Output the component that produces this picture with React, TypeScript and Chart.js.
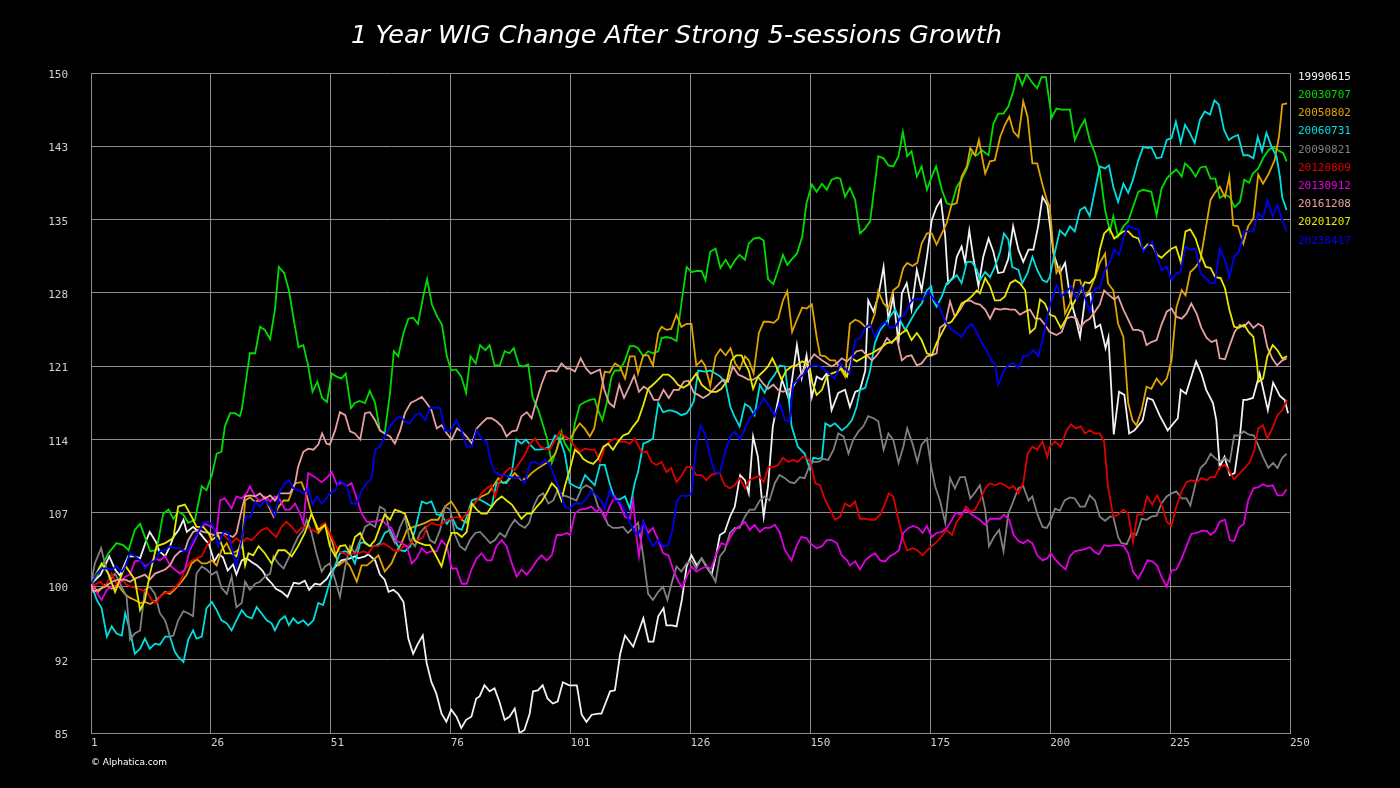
import React, { useEffect, useRef } from "react";
import { Chart, registerables } from "chart.js";

Chart.register(...registerables);

const TITLE = "1 Year WIG Change After Strong 5-sessions Growth";
const COPYRIGHT = "© Alphatica.com";
const SERIES_LABELS = ["19990615", "20030707", "20050802", "20060731", "20090821", "20120809", "20130912", "20161208", "20201207", "20230417"];
const SERIES_COLORS = ["#f2f2f2", "#00dd00", "#e0a400", "#00dede", "#808080", "#e00000", "#e000e0", "#e8a0a0", "#e8e800", "#0000ee"];
const X_TICK_LABELS = ["1", "26", "51", "76", "101", "126", "150", "175", "200", "225", "250"];
const Y_TICK_LABELS = ["85", "92", "100", "107", "114", "121", "128", "135", "143", "150"];
const X_MIN = 1;
const X_MAX = 250;
const Y_MIN = 85;
const Y_MAX = 150;

// [session, index value]
const S19990615: [number, number][] = [[1,99.7],[3,100.6],[4.8,102.4],[6,101.1],[7,100.5],[8.7,102.4],[10.1,102.4],[11.2,102.2],[12.5,104.0],[13.2,104.8],[14.5,103.8],[15.2,102.9],[16.4,102.4],[17.5,103.5],[18.1,104.3],[19.2,105.0],[20.2,106.0],[20.9,104.8],[22.2,105.3],[23.4,104.8],[24.6,104.1],[25.5,103.6],[26.6,101.9],[27.5,102.6],[28.4,102.3],[29.4,101.0],[30.5,101.6],[31.2,100.6],[32.3,102.0],[33.3,102.2],[34.5,101.8],[35.5,101.5],[36.6,101.0],[37.6,100.2],[38.6,99.7],[39.4,99.2],[40.6,98.9],[41.8,98.4],[43.1,99.8],[44.2,99.7],[45.4,100.0],[46.3,99.1],[47.5,99.7],[48.6,99.6],[50,100.2],[51,101.0],[53,102.0],[54.8,102.2],[55.8,102.4],[56.5,102.2],[57.9,102.4],[58.6,102.6],[60,102.0],[61,100.6],[62,100.1],[62.8,98.9],[63.8,99.1],[64.8,98.7],[65.9,97.9],[66.9,94.3],[67.9,92.8],[68.9,93.8],[69.9,94.6],[70.7,91.9],[71.7,90.0],[72.7,88.9],[73.8,86.9],[74.8,86.1],[75.8,87.3],[76.9,86.6],[77.9,85.5],[78.9,86.3],[80,86.6],[81,88.4],[81.7,88.6],[82.7,89.7],[83.8,89.1],[84.8,89.4],[85.8,88.1],[86.9,86.3],[87.9,86.6],[89,87.4],[90,85.0],[91,85.3],[92.1,86.9],[92.8,89.1],[93.8,89.2],[94.8,89.7],[95.8,88.4],[96.9,87.9],[97.9,88.1],[99,90.0],[100.3,89.7],[101.9,89.7],[102.9,86.8],[103.9,86.1],[105,86.8],[106.4,86.9],[107,86.9],[108.8,89.1],[109.8,89.2],[110.9,92.8],[111.9,94.6],[113.6,93.5],[115.7,96.3],[116.8,94.0],[117.8,94.0],[118.8,96.5],[119.9,97.3],[120.5,95.6],[121.6,95.6],[122.6,95.5],[123.7,98.1],[124.7,101.4],[125.7,102.5],[126.8,101.5],[127.8,102.2],[128.8,101.4],[129.9,100.6],[130.9,102.7],[131.6,104.5],[132.6,104.8],[133.7,106.3],[134.7,107.3],[135.8,110.4],[136.8,109.9],[137.6,108.6],[138.5,114.2],[139.5,112.2],[140.2,108.6],[140.7,106.3],[141.6,109.3],[142.6,115.2],[143.7,117.8],[144.5,119.8],[146,117.8],[147.6,123.2],[148.6,120.0],[149.6,122.2],[150.7,118.1],[151.7,120.1],[152.8,119.8],[153.8,120.4],[154.8,116.8],[156.2,118.5],[157.6,118.8],[158.6,117.1],[159.7,118.6],[160.7,118.8],[161.8,120.7],[162.4,127.6],[163.5,126.5],[164.5,128.0],[165.6,130.9],[166.6,125.7],[167.6,128.0],[168.7,123.4],[169.4,128.3],[170.4,129.3],[171.4,126.7],[172.5,130.6],[173.5,128.6],[174.6,131.9],[175.6,135.5],[176.6,136.8],[177.5,137.5],[178.4,133.9],[179,129.3],[180.1,129.9],[180.8,131.9],[181.8,132.9],[182.5,131.4],[183.4,134.5],[184.2,131.9],[185.3,129.0],[186.3,131.9],[187.4,133.7],[188.4,132.4],[189.4,130.3],[190.5,130.4],[191.5,131.7],[192.5,134.9],[193.6,132.6],[194.6,131.4],[195.7,132.6],[196.7,132.6],[197.7,134.9],[198.6,137.8],[199.6,137.0],[200.9,132.2],[202.2,130.3],[203.3,131.3],[204.3,128.0],[205.4,126.0],[206.4,124.0],[207.5,128.0],[208.5,128.3],[209.6,124.9],[210.6,125.2],[211.7,122.9],[212.3,124.0],[213.4,114.4],[214.5,118.6],[215.6,118.3],[216.6,114.5],[217.7,114.8],[219.4,115.8],[220.4,118.0],[221.5,117.8],[222.9,116.3],[224.6,114.8],[226.7,116.0],[227.3,118.8],[228.4,118.4],[230.5,121.6],[231.6,120.4],[232.6,118.8],[234,117.5],[234.7,115.8],[235.4,111.2],[236.4,112.2],[237.5,110.4],[238.5,110.6],[239.6,114.2],[240.3,117.8],[241,117.8],[242.3,118.0],[243.7,120.4],[245.4,116.8],[246.5,119.5],[247.9,118.2],[248.9,117.8],[249.6,116.5]];

const S20030707: [number, number][] = [[1,99.7],[2.2,100.5],[3.2,101.4],[4.6,102.7],[6.3,103.7],[7.7,103.5],[8.8,103.0],[10.1,105.0],[11.2,105.6],[12.2,104.3],[13.3,102.9],[14.6,103.0],[16,106.6],[17.1,107.0],[18.1,106.1],[19.1,106.8],[20.2,106.5],[21.2,105.7],[22.6,106.0],[24,109.3],[25,108.9],[26.1,110.4],[27.1,112.5],[28.1,112.7],[28.8,115.2],[29.9,116.5],[30.9,116.5],[31.9,116.2],[32.3,116.8],[33,119.1],[34,122.4],[35.1,122.4],[36.1,125.0],[37.1,124.7],[38.2,123.8],[39.2,126.7],[40,130.9],[41.1,130.3],[42.1,128.6],[43,126.0],[44.1,123.0],[45.1,123.2],[46,121.4],[47,118.6],[48,119.6],[49,118.0],[50,117.6],[51,120.4],[52,120.1],[53,119.9],[53.9,120.4],[55,117.0],[55.8,117.5],[56.8,117.7],[57.9,117.5],[58.9,118.7],[60,117.5],[61,114.8],[62,114.5],[63.1,118.5],[63.9,122.6],[64.8,122.1],[65.9,124.4],[66.9,125.8],[67.9,125.9],[68.9,125.3],[70,128.0],[70.8,129.7],[71.8,127.2],[72.9,126.0],[73.9,125.2],[74.9,122.1],[75.8,120.7],[76.8,120.8],[77.9,120.1],[78.9,118.5],[79.8,122.1],[80.9,121.4],[81.8,123.2],[82.9,122.7],[83.8,123.2],[84.8,121.2],[85.9,121.2],[86.9,122.6],[87.9,122.4],[88.8,122.9],[89.9,121.2],[90.8,121.1],[91.8,121.3],[92.7,118.1],[93.9,116.8],[95.6,114.2],[96.7,111.6],[97.7,112.9],[98.7,114.7],[99.4,113.5],[100.5,112.7],[101.5,115.5],[102.5,117.3],[103.6,117.6],[104.6,117.8],[105.6,117.9],[106.3,116.8],[107.2,115.8],[108.1,117.5],[109.1,120.1],[109.8,120.7],[110.8,120.7],[111.9,121.7],[112.9,123.1],[113.9,123.1],[114.6,122.9],[115.7,122.1],[116.7,122.6],[117.7,122.4],[118.8,122.6],[119.5,123.9],[120.5,124.0],[121.5,123.9],[122.6,123.6],[123.6,127.3],[124.7,130.9],[125.7,130.4],[126.7,130.5],[127.8,130.5],[128.6,129.6],[129.6,132.4],[130.7,132.7],[131.7,130.8],[132.8,131.6],[133.8,130.8],[134.8,131.6],[135.7,132.1],[136.8,131.6],[137.6,133.2],[138.6,133.7],[139.7,133.8],[140.7,133.5],[141.6,129.7],[142.7,129.2],[143.7,130.6],[144.7,132.1],[145.6,131.1],[146.6,131.7],[147.6,132.2],[148.7,133.9],[149.6,137.2],[150.7,139.0],[151.7,138.3],[152.8,139.1],[153.8,138.5],[154.8,139.5],[155.9,139.7],[156.6,139.6],[157.6,137.8],[158.6,138.7],[159.7,137.5],[160.7,134.2],[161.8,134.7],[162.8,135.4],[164.5,141.8],[165.6,141.6],[166.6,140.9],[167.6,140.8],[168.7,141.8],[169.6,144.2],[170.5,141.8],[171.4,142.3],[172.5,139.8],[173.5,140.8],[174.6,138.5],[175.6,139.8],[176.5,140.8],[177.7,138.5],[178.7,137.2],[179.7,137.0],[180.8,138.8],[181.8,139.5],[182.9,140.6],[183.9,142.1],[185,141.9],[186,142.4],[187.4,141.9],[188.4,145.0],[189.4,146.0],[190.5,146.0],[191.5,146.7],[192.6,148.3],[193.4,150.0],[194.4,148.8],[195.3,149.9],[196.4,149.1],[197.5,148.5],[198.4,149.6],[199.3,149.6],[200.5,145.6],[201.5,146.5],[202.6,146.4],[204.3,146.4],[205.3,143.4],[206.4,144.6],[207.4,145.4],[208.4,143.4],[209.5,142.1],[210.5,140.4],[211.6,136.5],[212.6,134.4],[213.3,135.9],[214.3,133.9],[215.4,134.9],[216.4,135.4],[217.4,136.8],[218.5,138.3],[219.5,138.5],[221.2,138.3],[222.3,136.0],[223.3,138.6],[224.4,139.6],[225.4,140.1],[226.4,140.5],[227.5,139.8],[228.2,141.1],[229.3,140.6],[230.4,139.8],[231.4,140.7],[232.5,140.8],[233.5,139.6],[234.5,139.6],[235.4,137.7],[236.5,138.0],[237.5,137.8],[238.5,136.8],[239.6,137.3],[240.5,139.5],[241.5,139.2],[242.3,140.1],[243.4,140.6],[244.4,141.6],[245.5,142.4],[246.5,142.7],[247.5,142.4],[248.6,142.1],[249.3,141.3]];

const S20050802: [number, number][] = [[1,99.7],[2.5,98.9],[3.9,99.6],[5.3,99.2],[6.7,99.5],[8,98.7],[9.1,98.3],[10.1,98.1],[11.2,97.8],[12.2,97.9],[13.3,97.7],[14.6,98.1],[16.4,98.9],[17.4,98.7],[18.5,99.2],[19.8,99.9],[20.9,100.6],[21.9,101.7],[23,102.1],[24,101.7],[25,101.7],[26.1,102.0],[27.1,101.5],[28.1,103.0],[29.2,103.7],[30.2,102.7],[31.2,102.9],[32.3,103.3],[33,107.9],[34,108.2],[35,107.8],[36.1,107.9],[37.1,108.1],[38.2,107.0],[38.9,106.3],[40,107.3],[41,107.9],[42,107.9],[43.4,109.6],[44.7,109.7],[45.8,108.4],[46.8,106.6],[48.2,104.7],[49.6,105.5],[51,104.0],[52.4,101.5],[53.8,102.0],[54.8,101.4],[56.2,99.9],[57.2,101.5],[58.3,101.5],[59.3,101.9],[60.7,102.5],[62,100.9],[63.4,101.7],[64.5,102.9],[65.5,103.7],[66.6,105.0],[68,105.3],[69.3,105.5],[70.4,105.7],[71.7,106.0],[73.1,106.0],[74.5,107.3],[75.8,107.8],[76.9,107.0],[78,106.0],[79,105.7],[80.1,107.3],[81.1,107.9],[82.1,108.3],[83.5,108.6],[84.5,109.3],[85.6,110.1],[86.6,109.6],[87.7,109.9],[89,110.6],[90.4,109.9],[91.5,110.1],[92.5,110.6],[93.9,111.1],[94.9,111.4],[96,111.7],[97.4,112.5],[98.4,113.9],[99.4,114.2],[100.5,113.9],[101.5,114.8],[102.5,115.5],[103.5,115.0],[104.6,114.2],[105.5,115.0],[106.3,117.1],[107.7,120.6],[108.7,120.5],[109.8,121.4],[110.8,121.1],[111.9,119.9],[112.9,122.1],[113.9,122.1],[114.6,120.4],[115.7,122.2],[116.7,122.2],[117.7,121.2],[118.8,124.4],[119.5,125.0],[120.5,124.7],[121.5,124.8],[122.6,126.2],[123.6,125.0],[124.7,125.3],[125.7,125.3],[126.7,121.2],[127.8,121.7],[128.5,121.2],[129.6,119.2],[130.7,122.1],[131.7,122.8],[132.8,122.2],[133.8,122.9],[134.8,121.4],[135.7,120.8],[136.8,122.1],[137.6,121.7],[138.6,120.4],[139.7,124.4],[140.7,125.5],[141.7,125.5],[142.8,125.4],[143.7,125.8],[144.7,127.6],[145.6,128.5],[146.6,124.5],[147.6,125.7],[148.7,126.9],[149.6,126.8],[150.7,127.2],[151.7,124.0],[152.4,122.2],[153.5,122.1],[154.5,121.7],[155.5,121.7],[156.6,120.9],[157.6,120.1],[158.6,125.3],[159.7,125.7],[160.7,125.5],[161.8,125.0],[162.8,125.0],[163.8,126.3],[164.5,128.5],[165.6,127.3],[166.6,126.8],[167.6,128.6],[168.7,129.0],[169.7,130.8],[170.5,131.3],[171.6,131.0],[172.6,131.3],[173.5,133.2],[174.6,134.2],[175.6,134.2],[176.6,133.1],[177.7,134.2],[178.7,135.2],[179.7,137.0],[180.8,137.2],[181.8,139.8],[182.9,140.8],[183.6,142.6],[184.6,141.9],[185.4,143.4],[186.7,140.1],[187.7,141.3],[188.7,141.4],[189.8,143.7],[190.8,144.9],[191.7,145.7],[192.6,144.2],[193.6,143.7],[194.6,147.2],[195.5,145.7],[196.5,141.1],[197.5,141.1],[198.6,139.0],[199.5,137.5],[200.1,136.8],[200.8,132.9],[201.5,130.3],[202.2,130.9],[203.3,126.3],[204.3,127.3],[205.3,129.6],[206.4,129.6],[207.4,128.0],[208.4,128.6],[209.5,129.9],[210.5,131.3],[211.6,132.2],[212.2,129.3],[213.3,128.6],[214.3,125.3],[215.4,124.0],[216.4,117.5],[217.3,115.8],[218.1,115.3],[219.2,116.8],[220.2,119.1],[221.2,118.9],[222.3,119.9],[223.3,119.3],[224.4,119.9],[225.4,121.7],[226.4,126.9],[227.5,128.6],[228.3,128.1],[229.3,130.4],[230.4,130.9],[231.4,131.6],[232.5,134.7],[233.5,137.5],[234.4,138.2],[235.4,138.8],[236.5,137.8],[237.4,139.8],[238.2,135.0],[239.2,134.9],[240.3,133.2],[241.3,134.9],[242.4,135.7],[243.4,140.0],[244.4,139.1],[245.5,140.0],[246.8,141.4],[247.7,143.7],[248.4,146.9],[249.4,147.0]];

const S20060731: [number, number][] = [[1,99.7],[2.2,98.1],[3.2,97.3],[4.3,94.5],[5.3,95.5],[6.3,94.8],[7.4,94.6],[8.1,96.8],[9.1,95.1],[10.1,92.8],[11.2,93.3],[12.2,94.3],[13.2,93.3],[14.3,93.8],[15.3,93.7],[16.4,94.5],[17.4,94.5],[18.4,93.0],[19.1,92.5],[20.2,92.0],[21.2,94.2],[22.2,95.1],[22.9,94.3],[24,94.5],[25,97.3],[26.1,97.9],[27.1,97.1],[28.1,96.1],[29.2,95.8],[30.2,95.1],[31.2,96.1],[32.3,97.1],[33.3,96.5],[34.4,96.3],[35.4,97.4],[36.4,96.8],[37.5,96.1],[38.5,95.8],[39.2,95.1],[40.2,96.1],[41.3,96.5],[42.1,95.6],[43,96.3],[44,95.8],[45.1,96.1],[46.1,95.6],[47.2,96.1],[48.2,97.8],[49.2,97.6],[50.6,99.9],[51.7,101.5],[52.7,102.7],[53.8,102.9],[54.8,102.7],[55.8,101.7],[56.9,103.7],[57.9,103.8],[58.9,103.4],[60,103.4],[61,103.7],[62,104.7],[63.1,105.0],[64.1,104.0],[65.2,103.0],[66.2,102.9],[67.3,103.4],[68.3,105.0],[69.7,107.8],[70.7,107.6],[71.7,107.8],[72.8,106.5],[73.8,106.5],[74.9,105.6],[75.9,106.3],[77,105.2],[78,105.0],[79,106.3],[80.1,107.9],[81.1,108.1],[82.1,107.9],[83.2,107.6],[84.2,107.3],[85.2,109.6],[86.3,109.7],[87.3,109.6],[88.4,110.7],[89.4,113.9],[90.4,113.5],[91.3,113.9],[92.2,113.4],[93.2,112.9],[94.2,112.9],[95.3,113.0],[96.3,113.2],[97.4,114.3],[98.4,113.9],[99.4,112.5],[100.4,109.6],[101.5,109.3],[102.5,109.1],[103.6,110.4],[104.6,109.9],[105.6,109.4],[106.7,111.4],[107.7,111.4],[108.7,109.6],[109.8,108.0],[110.8,108.0],[111.9,108.3],[112.9,107.1],[113.9,109.6],[114.6,110.7],[115.7,113.5],[116.7,113.7],[117.7,114.0],[118.8,117.5],[119.8,116.6],[121.2,116.8],[122.6,116.6],[123.6,116.3],[124.7,116.5],[125.7,117.2],[126.2,117.7],[127.1,120.7],[128.5,120.6],[129.6,120.7],[130.7,120.4],[131.7,120.1],[132.8,119.4],[133.8,117.1],[134.6,116.2],[135.7,115.2],[136.8,117.4],[137.8,117.1],[138.8,116.3],[139.9,119.3],[140.9,118.5],[141.9,119.6],[143,120.3],[144,121.2],[145.1,121.1],[146.1,117.1],[146.5,115.2],[147.8,113.2],[149.2,112.5],[150.3,111.0],[151,112.1],[152.1,112.0],[152.8,112.1],[153.5,115.5],[154.5,115.2],[155.5,115.5],[156.9,114.8],[158,115.2],[159,115.8],[160,117.1],[160.7,118.8],[161.8,119.0],[162.8,120.7],[163.8,123.4],[164.9,124.7],[165.9,125.3],[166.9,126.0],[168,126.7],[169.4,125.3],[170.1,124.7],[171.4,125.8],[172.5,126.7],[173.5,127.3],[174.6,128.6],[175.5,129.0],[175.9,127.6],[176.6,127.0],[177.7,128.0],[178.7,129.3],[179.7,129.6],[180.8,130.1],[181.8,129.3],[182.9,131.4],[183.9,131.4],[185,130.6],[185.6,129.6],[186.7,130.4],[187.7,129.9],[188.7,130.9],[189.8,132.4],[190.6,134.2],[191.5,133.6],[192.3,130.9],[193.6,130.6],[194.4,129.3],[195.5,130.3],[196.5,131.9],[197.5,130.6],[198.6,129.6],[199.5,129.4],[200.1,129.9],[201.2,132.4],[202.2,134.5],[203.3,134.0],[204.3,134.9],[205.3,134.4],[206.4,136.5],[207.4,136.8],[208.4,135.9],[209.5,138.5],[210.5,140.8],[211.6,140.6],[212.4,140.9],[213.3,138.8],[214.3,137.3],[215.4,139.1],[216.4,138.2],[217.4,139.5],[218.5,141.4],[219.5,142.7],[220.6,142.6],[221.2,142.7],[222.3,141.6],[223.3,141.7],[224.4,143.4],[225.4,143.6],[226.3,145.2],[227.3,143.1],[228.2,144.9],[229.2,144.1],[230.2,143.1],[231.3,145.4],[232.3,146.2],[233.4,145.9],[234.3,147.3],[235.2,146.9],[236.3,144.4],[237.3,143.4],[238.2,143.7],[239.2,143.9],[240.3,141.9],[241.3,141.9],[242.4,141.6],[243.3,143.7],[244.2,142.3],[245.1,144.1],[246.2,142.7],[247.2,141.8],[247.9,139.8],[248.4,137.7],[249.3,136.5]];

const S20090821: [number, number][] = [[1,99.7],[1.8,101.7],[3.1,103.2],[3.9,101.7],[5,100.1],[6,100.7],[7.4,99.4],[8.4,98.4],[9.1,94.2],[10.1,94.8],[11.2,95.1],[12.2,99.1],[13.2,99.4],[14.3,98.7],[15.3,96.8],[16.4,96.1],[17.4,94.5],[18.1,94.6],[19.1,96.1],[20.2,97.0],[21.2,96.8],[22.2,96.5],[22.9,100.7],[24,101.4],[25,101.1],[26.1,100.6],[27.1,100.9],[28.1,99.3],[29.2,98.7],[30.2,100.4],[31.2,97.4],[32.3,97.8],[33,99.9],[34,99.1],[35.1,99.7],[36.1,99.9],[37.1,100.4],[38.2,100.7],[38.9,102.4],[39.9,101.7],[41,101.2],[42,102.2],[43,103.3],[44,104.3],[45.1,105.0],[45.8,106.0],[46.8,104.7],[47.8,102.7],[48.9,100.9],[49.6,101.4],[50.6,101.7],[51.7,100.1],[52.7,98.4],[53.8,101.4],[54.8,103.4],[55.8,102.7],[56.9,104.0],[57.9,105.3],[58.9,105.6],[60,105.3],[61,107.3],[62,107.0],[63.1,104.7],[64.1,103.7],[65.2,105.3],[66.2,106.3],[67.2,104.0],[68.3,103.4],[69.3,104.7],[70.4,105.3],[71.4,104.0],[72.4,103.7],[73.5,105.0],[74.5,107.3],[75.6,107.0],[76.6,104.5],[77.6,103.4],[78.7,103.0],[79.7,104.0],[80.8,104.7],[81.8,104.8],[82.8,104.3],[83.9,103.7],[84.9,104.0],[85.9,104.7],[87,104.3],[88,105.3],[89,106.0],[90,105.5],[91.1,105.2],[92,105.7],[92.9,107.3],[93.9,108.3],[94.9,108.6],[96,107.6],[97,107.9],[98,109.0],[99,108.4],[99.8,108.3],[100.8,108.1],[101.8,107.9],[102.9,109.1],[103.9,109.4],[104.9,109.1],[105.6,108.4],[106.3,107.3],[107.4,106.6],[108.4,105.5],[109.4,105.2],[110.5,105.2],[111.5,105.3],[112.5,104.7],[113.6,105.2],[114.6,105.7],[115.7,102.4],[116.7,98.7],[117.7,98.1],[118.8,98.9],[119.8,99.4],[120.7,98.1],[121.5,99.6],[122.6,101.4],[123.6,100.9],[124.7,101.7],[125.7,102.0],[126.7,101.2],[127.8,102.2],[128.8,101.5],[129.8,100.7],[130.7,99.9],[131.6,102.4],[132.6,103.0],[133.7,104.7],[134.7,105.2],[135.7,105.2],[136.8,106.3],[137.8,107.0],[138.8,107.0],[139.9,107.9],[140.9,108.3],[141.9,107.9],[143,109.6],[144,110.4],[145.1,110.1],[146.1,109.7],[147.1,109.6],[148.2,110.2],[149.2,110.1],[150.5,111.7],[152.1,111.7],[153.1,112.0],[154.1,111.9],[155.2,112.9],[156.2,114.5],[157.3,114.2],[158.3,112.5],[159.3,113.9],[160.4,114.7],[161.4,115.2],[162.4,116.2],[163.5,116.0],[164.5,115.7],[165.6,112.9],[166.6,114.5],[167.6,113.9],[168.7,111.6],[169.7,113.2],[170.5,115.0],[171.6,113.5],[172.6,111.7],[173.5,113.4],[174.6,114.0],[175.5,111.2],[176.3,109.3],[177.3,107.9],[178.4,105.7],[179.4,110.1],[180.4,109.1],[181.5,110.2],[182.5,110.2],[183.6,108.1],[184.6,108.7],[185.6,109.4],[186.7,107.0],[187.5,103.4],[188.5,104.3],[189.6,105.0],[190.5,102.9],[191.5,106.6],[192.6,107.9],[193.6,109.1],[194.6,109.3],[195.7,107.9],[196.5,108.3],[197.5,106.6],[198.6,105.3],[199.5,105.2],[200.1,105.7],[201.2,107.1],[202.2,106.9],[203.2,107.9],[204.3,108.2],[205.3,108.1],[206.4,107.3],[207.4,107.3],[208.4,108.4],[209.5,107.9],[210.5,106.3],[211.6,105.9],[212.6,106.3],[213.3,106.3],[214.3,104.3],[215,103.7],[216.1,103.6],[217.1,104.7],[218.1,104.5],[219.2,106.1],[220.2,106.0],[221.2,106.3],[222.3,106.4],[223.3,107.6],[224.4,108.3],[225.4,108.6],[226.4,108.8],[227.5,108.1],[228.5,108.1],[229.3,107.4],[230.4,109.6],[231.4,111.1],[232.5,111.6],[233.5,112.5],[234.4,112.1],[235.4,111.7],[236.5,112.1],[237.5,111.7],[238.4,114.3],[239.4,114.3],[240.4,114.7],[241.4,114.4],[242.5,114.3],[243.5,113.2],[244.4,112.2],[245.5,111.1],[246.5,111.6],[247.4,111.1],[248.4,112.1],[249.3,112.5]];

const S20120809: [number, number][] = [[1,99.7],[1.8,99.6],[2.9,99.9],[3.9,99.4],[5.3,100.7],[6.3,99.7],[7.4,100.1],[8.4,99.6],[9.4,99.4],[10.5,99.3],[11.5,99.1],[12.6,98.9],[13.6,98.1],[14.6,97.8],[15.3,98.4],[16.4,98.8],[17.4,98.9],[18.4,99.3],[19.5,99.9],[20.5,101.1],[21.9,102.0],[22.9,102.2],[24,102.4],[25,103.4],[26.1,104.3],[27.1,104.8],[28.1,104.7],[29.2,104.2],[30.2,103.7],[31.2,104.2],[32.3,103.7],[33.3,104.2],[34.4,104.0],[35.4,104.5],[36.4,105.0],[37.5,105.2],[38.5,104.7],[39.5,104.3],[40.6,105.3],[41.6,105.8],[42.7,105.3],[43.7,104.7],[44.7,105.2],[45.8,105.3],[46.8,105.0],[47.8,104.8],[48.9,105.5],[49.6,105.7],[51.3,104.0],[52.4,102.9],[53.4,102.7],[54.4,102.5],[55.5,102.7],[56.5,102.7],[57.6,102.9],[58.6,102.7],[59.6,103.4],[60.7,103.4],[61.7,103.7],[62.8,103.4],[63.8,103.0],[64.8,102.9],[65.9,103.4],[66.9,103.4],[67.9,104.0],[69,104.0],[70,104.3],[70.7,105.3],[71.8,105.7],[72.8,105.5],[73.8,105.5],[74.9,106.0],[75.9,106.1],[76.9,106.3],[78,106.1],[79,106.6],[80.1,107.3],[81.1,107.9],[82.1,108.6],[83.2,109.1],[84.2,109.4],[84.9,108.3],[85.9,109.9],[87,110.7],[88,111.1],[89,110.9],[90.1,111.7],[91.1,112.4],[92.2,113.5],[93.2,114.0],[94.3,113.2],[95.3,113.0],[96.3,112.9],[97.4,113.9],[98.4,114.7],[99.4,114.2],[100.4,113.9],[101.5,113.2],[102.5,112.7],[103.6,113.0],[104.6,112.9],[105.6,112.9],[106.7,111.7],[107.7,113.2],[108.7,113.7],[109.8,114.0],[110.8,113.7],[111.9,113.7],[112.9,113.5],[113.9,114.0],[115.3,112.7],[116.4,112.7],[117.4,111.7],[118.4,111.4],[119.5,111.7],[120.5,110.7],[121.5,111.1],[122.6,109.7],[123.6,110.3],[124.7,111.2],[125.7,111.2],[126.7,110.4],[127.8,110.4],[128.8,109.9],[129.8,110.4],[130.9,110.6],[131.6,110.6],[132.6,109.4],[133.7,109.1],[134.7,109.4],[135.7,110.1],[136.8,109.1],[137.6,109.9],[138.6,110.1],[139.7,110.3],[140.7,109.7],[141.7,111.2],[142.8,111.2],[143.7,111.4],[144.7,112.1],[145.8,111.7],[146.8,111.9],[147.8,111.7],[148.8,112.2],[149.6,112.1],[150.4,111.7],[151.4,109.6],[152.4,109.4],[153.5,107.9],[154.5,107.0],[155.5,106.0],[156.6,106.3],[157.6,107.6],[158.6,107.3],[159.7,107.8],[160.7,106.1],[161.8,106.1],[162.8,106.0],[163.8,106.0],[164.9,106.5],[165.9,107.6],[166.7,108.6],[167.6,108.3],[168.7,106.0],[169.7,104.0],[170.5,103.0],[171.6,103.2],[172.6,103.0],[173.7,102.5],[174.7,103.0],[175.6,103.4],[176.6,103.8],[177.7,104.4],[178.7,105.0],[179.8,104.5],[180.8,105.8],[181.8,106.4],[182.7,107.3],[183.7,106.8],[184.6,107.0],[185.6,107.9],[186.7,109.1],[187.7,109.6],[188.7,109.4],[189.8,109.6],[190.8,109.4],[191.7,109.1],[192.6,109.3],[193.6,108.6],[194.6,109.6],[195.5,112.5],[196.5,113.2],[197.5,112.9],[198.6,113.7],[199.6,112.2],[200.1,113.2],[201.2,113.7],[202.4,113.2],[203.6,114.8],[204.5,115.4],[205.5,115.0],[206.6,115.2],[207.4,114.5],[208.4,114.8],[209.5,114.5],[210.5,114.5],[211.4,113.7],[212.2,109.3],[213.3,106.3],[214.3,106.5],[215.4,107.0],[216.4,106.6],[217.4,103.8],[218.3,106.5],[219.4,106.5],[220.3,108.3],[221.4,107.5],[222.4,108.4],[223.5,107.3],[224.4,105.8],[225.4,105.4],[226.4,107.3],[227.5,108.8],[228.5,109.7],[229.5,109.9],[230.6,109.7],[231.6,110.1],[232.7,109.9],[233.5,110.2],[234.4,110.2],[235.4,111.2],[236.5,111.4],[237.5,110.7],[238.4,110.0],[239.6,110.6],[240.6,111.1],[241.7,111.7],[242.6,112.9],[243.4,115.0],[244.4,115.3],[245.3,114.0],[246.5,115.2],[247.4,116.3],[248.4,116.8],[249.4,117.8]];

const S20130912: [number, number][] = [[1,99.7],[2.2,98.8],[3.2,98.1],[4.3,99.1],[5.3,99.4],[6.7,99.6],[8.1,100.4],[9.1,100.6],[10.1,101.9],[11.2,102.0],[12.2,101.4],[13.2,101.7],[14.3,102.2],[15.3,102.0],[16.4,102.4],[17.4,101.5],[18.4,101.1],[19.5,100.7],[20.5,101.1],[21.5,103.0],[22.6,104.0],[23.6,105.2],[24.7,105.6],[26.1,105.3],[27.1,104.8],[27.8,107.9],[28.8,108.1],[30.2,107.1],[31.2,108.3],[32.3,108.1],[33.3,108.6],[34,109.3],[35.1,108.3],[36.1,107.8],[37.1,108.3],[38.2,107.8],[39.2,108.3],[40.2,108.0],[41.3,107.0],[42.3,107.0],[43.4,107.6],[44.4,106.6],[45.1,105.7],[46.1,110.6],[47.5,110.2],[48.9,109.7],[49.9,110.1],[51,110.7],[52.1,109.4],[53.1,109.7],[54.1,109.3],[55.1,109.6],[56.2,108.1],[57.2,106.6],[58.3,105.8],[59.3,105.8],[60.4,105.9],[61.4,106.0],[62.4,105.5],[63.4,105.2],[64.5,103.9],[65.5,103.7],[66.6,103.4],[67.6,101.7],[68.6,102.2],[69.7,103.2],[70.7,102.7],[71.7,102.9],[72.8,102.9],[73.8,104.0],[74.9,103.4],[75.9,101.2],[76.9,101.2],[78,99.7],[79,99.7],[80.1,101.2],[81.1,102.2],[82.1,102.7],[83.2,102.0],[84.2,102.0],[85.2,103.4],[86.3,104.0],[87.3,103.4],[88.4,101.7],[89.4,100.4],[90.4,101.1],[91.5,100.6],[92.5,101.2],[93.6,102.0],[94.6,102.5],[95.6,102.0],[96.7,102.5],[97.7,104.5],[98.7,104.5],[99.8,104.7],[100.5,104.5],[101.5,106.6],[102.5,107.0],[103.9,107.1],[104.9,107.3],[106,106.8],[106.7,107.1],[107.7,106.1],[108.7,107.3],[109.8,108.3],[110.8,107.5],[111.9,106.3],[112.9,106.1],[113.6,107.9],[114.3,104.3],[114.8,102.4],[115.7,105.8],[116.7,104.7],[117.7,105.2],[118.8,104.0],[119.8,102.7],[120.9,102.5],[121.9,101.1],[123,99.9],[123.8,99.3],[124.7,100.4],[125.7,101.4],[126.7,100.9],[127.8,101.2],[128.8,101.4],[129.8,101.2],[130.9,102.7],[131.9,103.7],[133,103.5],[134,104.5],[135.1,105.2],[136.1,105.5],[136.8,105.8],[137.8,105.0],[138.8,105.5],[139.9,104.8],[140.9,105.2],[142,105.2],[143,105.5],[144,104.8],[145.1,103.0],[146.5,102.0],[147.5,103.4],[148.5,104.3],[149.6,104.2],[150.3,103.7],[151.7,103.2],[152.8,103.4],[153.8,104.0],[154.8,104.0],[155.9,103.7],[156.9,102.5],[158,102.0],[158.6,101.5],[159.7,101.9],[160.7,101.1],[161.8,102.0],[162.8,102.4],[163.8,102.7],[164.9,102.0],[165.9,101.9],[166.9,102.4],[168,102.7],[168.8,103.0],[169.7,104.7],[170.8,105.2],[171.8,105.4],[172.8,105.2],[173.7,104.7],[174.6,105.4],[175.6,104.3],[176.6,104.7],[177.7,104.8],[178.7,105.2],[179.8,106.0],[180.6,106.7],[181.6,106.5],[182.7,107.0],[183.7,106.6],[184.6,106.3],[185.6,106.0],[186.7,105.5],[187.7,106.1],[188.7,106.1],[189.8,106.1],[190.6,106.5],[191.7,106.0],[192.6,104.5],[193.6,103.9],[194.6,103.7],[195.5,104.0],[196.5,103.7],[197.5,102.5],[198.6,102.0],[199.6,102.2],[200.3,102.7],[201.4,102.0],[202.4,101.5],[203.4,101.1],[204.3,102.4],[205.3,102.9],[206.4,103.0],[207.4,103.1],[208.4,103.3],[209.5,102.8],[210.3,102.6],[211.4,103.5],[212.4,103.4],[213.4,103.5],[214.5,103.5],[215.5,103.4],[216.4,102.7],[217.4,100.9],[218.5,100.2],[219.5,101.1],[220.4,102.0],[221.4,101.9],[222.4,101.5],[223.3,100.4],[224.4,99.4],[225.4,101.0],[226.4,101.1],[227.5,102.2],[228.5,103.4],[229.5,104.6],[230.6,104.7],[231.6,104.9],[232.7,104.9],[233.5,104.5],[234.5,104.9],[235.4,105.8],[236.5,106.0],[237.5,104.0],[238.4,103.9],[239.4,105.2],[240.4,105.6],[241.3,107.9],[242.4,109.1],[243.4,109.2],[244.4,109.5],[245.3,109.3],[246.4,109.4],[247.4,108.4],[248.4,108.4],[249.3,109.0]];

const S20161208: [number, number][] = [[1,99.7],[1.5,98.9],[3.9,99.4],[5.3,99.9],[6.7,100.1],[8.1,100.1],[9.1,99.9],[10.1,100.2],[11.2,100.4],[12.2,100.6],[13.2,100.1],[14.3,100.7],[15.3,100.9],[16.4,101.1],[17.4,101.5],[18.4,102.4],[19.5,102.9],[20.5,103.0],[21.2,104.0],[22.2,104.8],[23.3,105.0],[24.3,104.8],[25.4,104.7],[26.4,104.5],[27.4,104.7],[28.5,104.7],[29.5,104.5],[30.5,104.3],[31.2,104.7],[32.3,107.0],[33,108.3],[34,108.4],[35.1,108.3],[36.1,108.6],[37.1,108.1],[38.2,108.4],[39.2,107.9],[40.2,108.6],[41.3,108.6],[42.3,108.6],[43.4,109.6],[44,111.2],[45.1,112.7],[46.1,113.0],[47.2,112.9],[48.2,113.4],[49,114.5],[49.9,113.5],[50.6,113.4],[51.7,114.8],[52.7,116.6],[53.8,116.3],[54.8,114.7],[55.8,114.5],[56.9,113.9],[57.9,116.5],[58.9,116.6],[60,115.8],[61,114.8],[62,114.5],[63.1,114.2],[64.1,113.5],[65.2,114.8],[66.2,116.5],[67.4,117.5],[68.6,117.8],[69.7,118.1],[70.7,117.5],[71.7,116.8],[72.8,115.0],[73.8,115.3],[74.9,114.5],[75.9,113.9],[77,115.0],[78,114.7],[79,114.2],[80.1,113.5],[81.1,115.0],[82.1,115.5],[83.2,116.0],[84.2,116.0],[85.2,115.7],[86.3,115.2],[87.3,114.2],[88.4,114.7],[89.4,114.8],[90.4,116.2],[91.5,116.6],[92.5,116.0],[93.5,117.7],[94.6,119.4],[95.6,120.6],[96.7,120.7],[97.7,120.6],[98.7,121.4],[99.8,120.9],[100.4,120.9],[101.5,120.6],[102.7,121.9],[103.8,120.9],[104.8,120.4],[106.7,120.8],[107.6,118.8],[108.6,117.5],[109.6,117.1],[110.7,119.3],[111.7,118.0],[112.8,119.1],[113.8,120.2],[114.8,118.6],[115.8,119.1],[116.8,118.8],[117.9,117.8],[118.9,117.8],[119.9,118.8],[121,118.0],[122,118.8],[123.1,118.8],[124.1,119.6],[125.1,119.7],[126.2,118.5],[127.1,118.3],[128.1,118.0],[129.2,118.3],[130.2,118.8],[131.2,119.3],[132.3,119.8],[133.3,119.6],[134.3,121.1],[135.4,120.3],[136.4,120.1],[137.5,119.8],[138.5,119.8],[139.5,120.1],[140.6,119.4],[141.6,118.9],[142.7,119.3],[143.7,118.8],[144.7,118.6],[145.8,118.8],[146.8,119.1],[147.8,119.9],[148.9,120.7],[150.3,121.7],[151.2,122.3],[152.8,121.7],[153.8,121.4],[154.8,121.1],[155.9,121.4],[156.9,121.9],[158,121.6],[159,122.1],[160,122.6],[161.1,122.7],[162.1,122.2],[163.2,121.7],[164.2,122.2],[165.2,122.9],[166.3,123.9],[167.3,123.4],[168.3,124.0],[169.4,121.7],[170.4,122.1],[171.4,122.2],[172.5,121.2],[173.5,121.4],[174.6,122.1],[175.6,122.2],[176.6,122.4],[177.3,124.9],[178.4,125.3],[179.4,127.5],[180.4,126.0],[181.5,126.7],[182.5,127.5],[183.6,127.6],[184.6,127.3],[185.6,127.2],[186.7,126.7],[187.7,125.8],[188.7,126.8],[189.8,126.7],[190.8,126.8],[191.9,126.7],[192.9,126.7],[193.9,126.2],[195,126.5],[196,126.7],[197.1,125.8],[198.1,125.8],[199.1,125.2],[200.1,124.5],[201.5,124.2],[202.6,124.5],[203.6,125.8],[204.6,126.0],[205.7,125.8],[206.4,124.9],[207.4,125.5],[208.4,125.8],[209.5,126.5],[210.5,127.2],[211.4,128.6],[212.5,128.1],[213.5,127.7],[214.3,128.0],[215.4,126.7],[216.4,125.7],[217.4,124.7],[218.5,124.7],[219.4,124.5],[220.2,123.2],[221.2,123.5],[222.3,123.7],[223.3,125.2],[224.4,126.5],[225.4,126.8],[226.4,126.0],[227.5,125.8],[228.5,126.3],[229.5,127.3],[230.6,126.3],[231.6,124.9],[232.7,123.9],[233.7,123.5],[234.7,123.7],[235.4,121.9],[236.5,121.8],[237.5,123.2],[238.5,124.5],[239.6,125.2],[240.4,125.0],[241.4,125.5],[242.4,124.9],[243.4,125.3],[244.4,125.0],[245.3,123.0],[246.3,121.9],[247.3,121.2],[248.4,121.7],[249.3,121.9]];

const S20201207: [number, number][] = [[1,99.7],[3.2,101.7],[4.6,100.7],[6,98.9],[8.1,101.5],[10.1,100.1],[11.2,97.1],[12.2,98.1],[13.2,100.6],[14.6,103.4],[16.4,103.7],[18.1,104.2],[19.1,107.3],[20.5,107.5],[21.9,106.3],[22.9,105.3],[24.3,105.3],[25.4,104.7],[26.1,104.0],[27.4,104.5],[28.8,102.7],[30.2,102.7],[31.2,102.4],[32.3,104.0],[33,101.5],[33.7,102.7],[34.7,102.5],[35.8,103.4],[37.1,102.7],[38.5,101.7],[39.9,103.0],[41.3,103.0],[42.7,102.4],[44,103.4],[45.4,104.7],[46.8,106.6],[48.2,105.0],[49.6,105.5],[50.6,103.4],[51.7,102.4],[52.7,103.4],[53.8,103.5],[54.8,102.7],[55.8,104.3],[56.9,104.7],[57.9,103.7],[58.9,103.4],[60,104.0],[61,105.3],[62,106.5],[63.1,106.0],[64.1,107.0],[65.2,106.8],[66.2,106.6],[67.2,105.3],[68.3,103.9],[69.3,103.7],[70.4,103.5],[71.4,103.5],[72.4,102.7],[73.8,101.4],[74.9,103.4],[75.9,104.7],[77,104.7],[78,104.3],[79,104.8],[80.1,107.6],[81.1,107.0],[82.1,106.6],[83.2,106.6],[84.2,107.3],[85.2,107.9],[86.3,108.3],[87.3,107.9],[88.4,107.5],[89.4,106.8],[90.4,106.1],[91.5,106.6],[92.5,106.6],[93.6,107.3],[94.6,107.8],[95.6,108.6],[96.7,109.6],[97.7,109.1],[98.7,107.9],[99.4,109.3],[100.4,110.9],[101.5,112.9],[102.5,112.5],[103.2,112.0],[104.2,111.7],[105.3,111.5],[106.3,112.0],[107.4,113.2],[108.4,113.5],[109.4,112.9],[110.5,113.7],[111.5,114.3],[112.6,114.5],[113.6,115.2],[114.6,115.8],[115.7,117.3],[116.7,118.9],[117.7,119.3],[118.8,119.8],[119.8,120.3],[120.9,120.3],[121.9,119.9],[122.9,119.3],[124,119.0],[125,119.3],[125.8,119.8],[126.7,120.4],[127.8,119.3],[128.8,118.9],[129.8,118.6],[130.9,118.6],[131.9,118.9],[133,119.6],[134,121.7],[135,122.2],[136.1,122.2],[136.8,121.4],[137.6,120.7],[138.5,118.9],[139.5,120.1],[140.6,120.6],[141.6,121.1],[142.5,121.9],[143.3,121.1],[144.4,119.8],[145.4,120.7],[146.5,121.1],[147.5,121.2],[148.7,121.6],[149.6,121.4],[150.3,120.9],[150.8,119.5],[151.7,118.3],[152.8,118.8],[153.8,120.1],[154.8,120.4],[155.9,120.6],[156.9,120.9],[158,120.1],[159,121.9],[160,121.6],[161.1,121.9],[162.1,122.2],[163.2,122.4],[164.2,122.7],[165.2,123.0],[166.3,123.4],[167.3,123.5],[168.3,123.9],[169.4,124.4],[170.4,124.7],[171.4,123.7],[172.5,124.4],[173.5,123.7],[174.6,122.4],[175.6,122.2],[176.6,123.4],[177.7,124.4],[178.7,125.3],[179.7,125.5],[180.8,126.3],[181.8,127.3],[182.9,127.6],[183.9,128.0],[185,128.6],[185.6,128.3],[186.7,129.8],[187.7,129.0],[188.7,127.6],[189.8,127.6],[190.8,128.0],[191.9,129.3],[192.9,129.6],[193.9,129.3],[195,128.6],[196,124.4],[197.1,124.9],[198.1,127.7],[199.1,127.3],[200.1,126.2],[201.2,126.0],[202.4,124.9],[203.4,125.7],[204.4,126.7],[205.5,127.7],[206.5,128.5],[207.4,129.4],[208.4,129.3],[209.5,129.9],[210.5,132.6],[211.4,134.2],[212.5,134.7],[213.5,133.7],[214.3,134.0],[215.4,134.4],[216.4,134.4],[217.4,133.9],[218.5,133.7],[219.5,132.6],[220.4,133.1],[221.4,133.0],[222.4,132.1],[223.3,131.8],[224.4,132.3],[225.4,132.7],[226.3,132.9],[227.3,131.4],[228.3,134.4],[229.3,134.6],[230.4,133.7],[231.4,132.2],[232.5,130.9],[233.5,130.8],[234.5,129.9],[235.6,129.8],[236.5,128.8],[237.4,126.7],[238.4,125.0],[239.4,124.9],[240.5,125.2],[241.4,124.5],[242.4,124.0],[243.1,121.6],[243.5,119.6],[244.4,119.9],[245.3,122.1],[246.4,123.2],[247.4,122.7],[248.4,121.9],[249.4,122.1]];

const S20230417: [number, number][] = [[1,99.7],[2.2,100.7],[3.2,101.2],[4.3,101.2],[5.3,101.1],[6.3,101.4],[7.4,100.9],[8.1,101.4],[9.1,102.7],[10.1,102.4],[11.2,102.0],[12.2,101.2],[13.2,101.7],[14.3,102.0],[15.3,102.9],[16.4,103.0],[17.4,103.4],[18.4,103.2],[19.5,103.2],[20.2,102.9],[21.2,103.0],[22.2,104.0],[23.3,104.8],[24.3,105.7],[25.4,105.8],[26.4,105.4],[27.4,103.4],[28.5,104.8],[29.5,104.7],[30.5,102.7],[31.2,101.4],[32.3,104.0],[33.1,106.3],[34.2,106.3],[35.1,107.8],[36.1,107.3],[37.1,107.9],[38.2,107.3],[39.2,106.3],[40.2,108.8],[41.3,109.6],[42.1,109.9],[43,109.1],[44,108.9],[45.1,108.6],[46.1,109.1],[47,107.5],[47.9,108.3],[48.9,107.6],[49.9,108.1],[50.6,108.6],[51.7,108.9],[52.7,109.9],[54.1,109.3],[55.1,107.6],[56.2,107.6],[57.2,108.9],[58.3,109.6],[59.3,110.1],[60,112.9],[61,113.2],[62,114.2],[63.1,115.2],[64.1,115.8],[65.2,116.2],[66.2,115.7],[67.2,115.5],[68.3,116.3],[69.3,116.5],[70.4,115.8],[71.4,117.0],[72.4,117.1],[73.5,117.0],[74.5,114.8],[75.6,114.7],[76.9,115.8],[78,114.7],[79,113.2],[80.1,113.2],[81.1,114.8],[82.1,114.0],[83.2,113.7],[83.9,111.9],[84.9,110.7],[85.9,110.4],[87,110.4],[88,110.2],[89,110.1],[90.1,110.2],[91.1,109.6],[92.2,111.6],[93.2,111.7],[94.3,111.4],[95.3,111.9],[96.3,111.4],[97.4,110.1],[98.4,108.8],[99.4,107.3],[100.4,107.1],[101.5,107.6],[102.9,107.6],[103.9,108.1],[104.9,108.9],[106,108.4],[107,107.8],[107.7,107.1],[108.7,108.9],[109.8,107.9],[110.8,107.8],[111.9,107.0],[112.9,105.7],[113.9,104.8],[114.6,104.5],[115.7,105.8],[116.7,104.3],[117.7,103.4],[118.8,104.0],[119.8,103.4],[120.9,103.5],[121.9,105.3],[122.6,107.8],[123.6,108.4],[124.7,108.3],[125.7,108.6],[126.7,113.4],[127.6,115.3],[128.5,114.5],[129.5,112.4],[130.5,110.7],[131.6,110.6],[132.6,112.5],[133.7,114.2],[134.7,114.7],[135.7,113.9],[136.8,115.0],[137.8,116.0],[138.8,116.5],[139.9,117.3],[140.6,118.0],[141.9,117.2],[143,116.2],[144,117.5],[145.1,115.8],[146.1,115.7],[146.8,119.4],[147.8,119.8],[148.9,120.3],[150.3,121.1],[151.4,121.2],[152.4,121.1],[153.5,120.7],[154.5,120.3],[155.5,119.9],[156.6,121.4],[157.6,120.9],[158.6,120.4],[159.7,123.7],[160.7,123.9],[161.8,124.9],[162.8,125.3],[163.8,124.0],[164.9,125.0],[165.9,125.5],[166.9,124.9],[168,125.0],[169,125.8],[170.1,126.3],[171.1,127.3],[171.8,127.7],[172.8,127.7],[173.9,127.7],[174.9,128.5],[176,127.7],[177,127.2],[177.7,126.3],[178.7,125.3],[179.7,124.7],[180.8,124.4],[181.8,124.0],[182.9,124.9],[183.9,125.3],[185,124.4],[186,123.4],[187,122.7],[188.1,121.6],[188.7,121.4],[189.4,119.3],[190.5,120.6],[191.5,121.2],[192.6,121.4],[193.6,120.9],[194.6,122.1],[195.7,122.2],[196.7,122.7],[197.7,122.1],[198.6,123.7],[199.5,125.8],[200.1,127.0],[201.5,129.1],[202.6,128.0],[203.6,128.5],[204.6,129.0],[205.7,127.7],[206.7,129.0],[207.8,127.3],[208.4,126.5],[209.5,128.8],[210.5,128.8],[211.4,130.4],[212.5,131.3],[213.5,132.6],[214.5,132.1],[215.5,133.9],[216.4,135.0],[217.4,134.7],[218.5,134.6],[219.5,132.4],[220.4,132.9],[221.4,133.4],[222.4,131.9],[223.3,130.6],[224.4,130.9],[225.4,129.6],[226.4,130.3],[227.3,130.4],[228.3,132.9],[229.3,132.6],[230.4,132.7],[231.4,130.3],[232.5,129.8],[233.5,129.3],[234.4,129.3],[235.4,132.7],[236.5,131.6],[237.4,129.9],[238.4,131.9],[239.4,132.4],[240.5,134.4],[241.4,134.4],[242.4,134.4],[243.4,136.2],[244.4,135.7],[245.3,137.5],[246.4,135.9],[247.4,137.0],[248.4,135.5],[249.3,134.4]];

const SERIES_DATA = [S19990615, S20030707, S20050802, S20060731, S20090821, S20120809, S20130912, S20161208, S20201207, S20230417];

const GRID_COLOR = "#8e8e8e";
const TICK_COLOR = "#d0d0d0";

const decorPlugin = {
  id: "decor",
  afterDraw(chart: any) {
    const ctx = chart.ctx;
    ctx.save();
    // title
    ctx.fillStyle = "#ffffff";
    ctx.font = 'italic 25.5px "DejaVu Sans"';
    ctx.textAlign = "center";
    ctx.textBaseline = "middle";
    ctx.fillText(TITLE, 676.5, 36);
    // legend
    ctx.font = '11px "DejaVu Sans Mono"';
    ctx.textAlign = "left";
    ctx.textBaseline = "middle";
    chart.data.datasets.forEach((ds: any, i: number) => {
      ctx.fillStyle = ds.borderColor;
      ctx.fillText(ds.label, chart.chartArea.right + 8, chart.chartArea.top + 4 + i * 18.2);
    });
    // copyright
    ctx.fillStyle = "#ffffff";
    ctx.font = '9px "DejaVu Sans"';
    ctx.textAlign = "left";
    ctx.textBaseline = "middle";
    ctx.fillText(COPYRIGHT, chart.chartArea.left, 763);
    ctx.restore();
  },
};

export default function App() {
  const canvasRef = useRef<HTMLCanvasElement | null>(null);

  useEffect(() => {
    document.body.style.margin = "0";
    document.body.style.background = "#000";
    const canvas = canvasRef.current;
    if (!canvas) return;
    const datasets = SERIES_LABELS.map((label, i) => ({
      label,
      data: SERIES_DATA[i].map(([x, y]) => ({ x, y })),
      borderColor: SERIES_COLORS[i],
      backgroundColor: SERIES_COLORS[i],
      borderWidth: 1.8,
      pointRadius: 0,
      pointHoverRadius: 0,
      tension: 0,
      fill: false,
      order: SERIES_LABELS.length - i,
    }));
    const chart = new Chart(canvas, {
      type: "line",
      data: { datasets },
      options: {
        animation: false,
        responsive: false,
        devicePixelRatio: 1,
        layout: { padding: { left: 0, right: 110, top: 73, bottom: 0 } },
        plugins: {
          legend: { display: false },
          tooltip: { enabled: false },
          title: { display: false },
        },
        scales: {
          x: {
            type: "linear",
            min: X_MIN,
            max: X_MAX,
            afterBuildTicks: (scale: any) => {
              scale.ticks = X_TICK_LABELS.map((_, i) => ({ value: X_MIN + (i * (X_MAX - X_MIN)) / (X_TICK_LABELS.length - 1) }));
            },
            afterFit: (scale: any) => {
              scale.height = 55;
            },
            ticks: {
              autoSkip: false,
              maxRotation: 0,
              minRotation: 0,
              align: "start",
              padding: 4,
              color: TICK_COLOR,
              font: { family: "DejaVu Sans Mono", size: 11 },
              callback: (_v: any, i: number) => X_TICK_LABELS[i],
            },
            grid: { color: GRID_COLOR, lineWidth: 1, drawTicks: false },
            border: { color: GRID_COLOR },
          },
          y: {
            type: "linear",
            min: Y_MIN,
            max: Y_MAX,
            afterBuildTicks: (scale: any) => {
              scale.ticks = Y_TICK_LABELS.map((_, i) => ({ value: Y_MIN + (i * (Y_MAX - Y_MIN)) / (Y_TICK_LABELS.length - 1) }));
            },
            afterFit: (scale: any) => {
              scale.width = 91;
            },
            ticks: {
              autoSkip: false,
              padding: 23,
              labelOffset: 2,
              color: TICK_COLOR,
              font: { family: "DejaVu Sans Mono", size: 11 },
              callback: (_v: any, i: number) => Y_TICK_LABELS[i],
            },
            grid: { color: GRID_COLOR, lineWidth: 1, drawTicks: false },
            border: { color: GRID_COLOR },
          },
        },
      },
      plugins: [decorPlugin],
    });
    return () => chart.destroy();
  }, []);

  return (
    <div style={{ position: "fixed", left: 0, top: 0, width: 1400, height: 788, background: "#000" }}>
      <canvas ref={canvasRef} width={1400} height={788} style={{ display: "block" }} />
    </div>
  );
}
